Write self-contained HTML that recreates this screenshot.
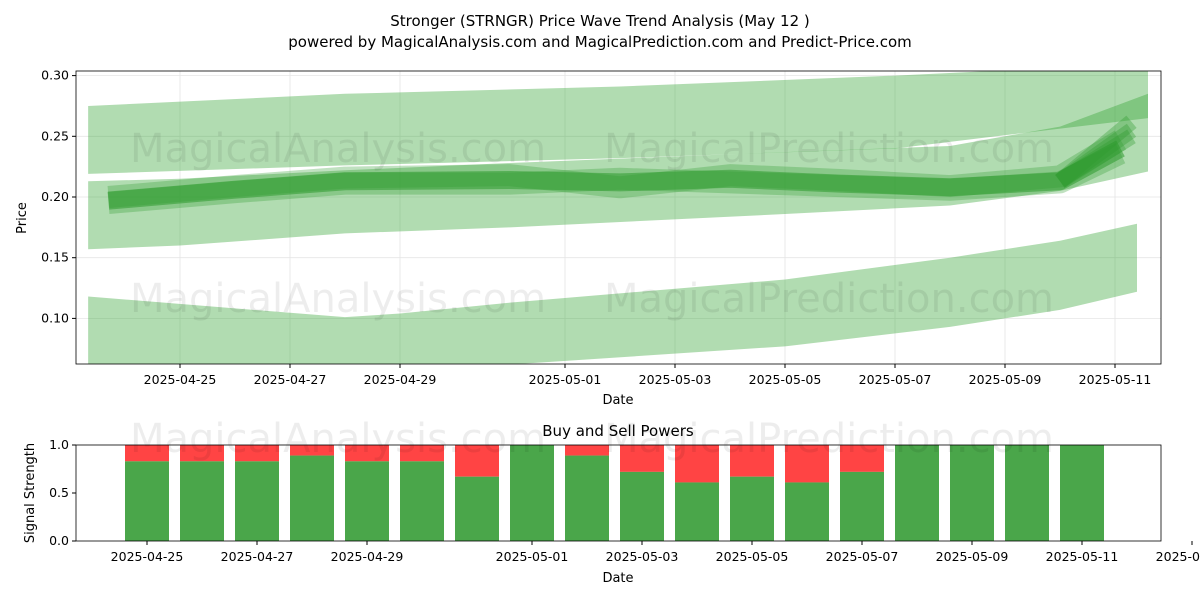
<!DOCTYPE html>
<html><head><meta charset="utf-8"><style>
body{margin:0;background:#fff;font-family:"Liberation Sans","DejaVu Sans",sans-serif}
text{font-family:"DejaVu Sans","Liberation Sans",sans-serif}
</style></head><body>
<svg id="c" width="1200" height="600" xmlns="http://www.w3.org/2000/svg">
<text x="600" y="26" text-anchor="middle" font-size="15">Stronger (STRNGR) Price Wave Trend Analysis (May 12 )</text>
<text x="600" y="47" text-anchor="middle" font-size="15">powered by MagicalAnalysis.com and MagicalPrediction.com and Predict-Price.com</text>
<g id="topPanel"></g>
<g id="botPanel"></g>
</svg>
<script>
const priceTicks=[0.10,0.15,0.20,0.25,0.30];
const dateTicksTop=["2025-04-25","2025-04-27","2025-04-29","2025-05-01","2025-05-03","2025-05-05","2025-05-07","2025-05-09","2025-05-11"];
const dateTicksBot=["2025-04-25","2025-04-27","2025-04-29","2025-05-01","2025-05-03","2025-05-05","2025-05-07","2025-05-09","2025-05-11","2025-05-13"];
// days since 2025-04-23
const bandADays=[0.33,5,10,15,19.6];
const bandAUpper=[0.275,0.285,0.291,0.300,0.310];
const bandALower=[0.219,0.226,0.232,0.240,0.265];
const bandBDays=[0.33,2,5,8,13,16,18,19.6];
const bandBUpper=[0.213,0.215,0.222,0.228,0.237,0.242,0.258,0.285];
const bandBLower=[0.157,0.160,0.170,0.175,0.186,0.193,0.205,0.221];
const bandCDays=[0.33,5,6,8,13,16,18,19.4];
const bandCUpper=[0.118,0.101,0.104,0.113,0.132,0.150,0.164,0.178];
const bandCLower=[0.062,0.052,0.055,0.062,0.077,0.093,0.107,0.122];
const trendDays=[0.7,3,5,8,10,12,14,16,18,19.1];
const trendMain=[0.197,0.206,0.213,0.214,0.212,0.215,0.211,0.208,0.213,0.240];
const trendAlt1=[0.200,0.209,0.216,0.218,0.208,0.218,0.214,0.209,0.217,0.247];
const trendAlt2=[0.195,0.204,0.211,0.211,0.215,0.212,0.209,0.206,0.212,0.236];
const trendEnd=[0.255,0.262,0.250];
const barDays=[2,3,4,5,6,7,8,9,10,11,12,13,14,15,16,17,18,19];
const buyPower=[0.83,0.83,0.83,0.89,0.83,0.83,0.67,1,0.89,0.72,0.61,0.67,0.61,0.72,1,1,1,1];
const NS="http://www.w3.org/2000/svg";
function mk(p,t,a){const e=document.createElementNS(NS,t);for(const k in a)e.setAttribute(k,a[k]);p.appendChild(e);return e;}
const topG=document.getElementById('topPanel'),botG=document.getElementById('botPanel');
const X0=76,X1=1161,T0=71,T1=364,B0=445,B1=541;
const xd=d=>70+55*d;
const yp=v=>197-(v-0.20)/0.05*60.7;
const ys=v=>B1-v*96;
function dayOf(s){const[y,m,d]=s.split('-').map(Number);return m===4?d-23:d+8;}
const defs=mk(topG,'defs',{});const cp=mk(defs,'clipPath',{id:'cl'});mk(cp,'rect',{x:X0,y:T0,width:X1-X0,height:T1-T0});
const g=mk(topG,'g',{'clip-path':'url(#cl)'});
dateTicksTop.forEach(s=>{const x=xd(dayOf(s));const l=mk(g,'line',{x1:x,x2:x,y1:T0,y2:T1,stroke:'#e5e5e5','stroke-width':0.8});});
priceTicks.forEach(v=>{const y=yp(v);const l=mk(g,'line',{x1:X0,x2:X1,y1:y,y2:y,stroke:'#e5e5e5','stroke-width':0.8});});
function band(days,up,lo,name){let pts=days.map((d,i)=>xd(d)+','+yp(up[i]));pts=pts.concat(days.map((d,i)=>xd(d)+','+yp(lo[i])).reverse());const p=mk(g,'polygon',{points:pts.join(' '),fill:'#2ca02c','fill-opacity':0.37});}
band(bandADays,bandAUpper,bandALower,'upper-band');
band(bandBDays,bandBUpper,bandBLower,'middle-band');
band(bandCDays,bandCUpper,bandCLower,'lower-band');
function line(days,vals,w,op,name){const p=mk(g,'polyline',{points:days.map((d,i)=>xd(d)+','+yp(vals[i])).join(' '),fill:'none',stroke:'#2e9a2e','stroke-opacity':op,'stroke-width':w,'stroke-linejoin':'round'});}
line(trendDays,trendAlt1,22,0.3,'trend-wave-1');
line(trendDays,trendAlt2,22,0.3,'trend-wave-2');
line(trendDays,trendMain,18,0.55,'trend-wave-main');
trendEnd.forEach((v,i)=>{const p=mk(g,'polyline',{points:xd(18)+','+yp(trendMain[8])+' '+xd(19.3)+','+yp(v),fill:'none',stroke:'#2e9a2e','stroke-opacity':0.35,'stroke-width':16});});
[[130,162],[130,312],[604,162],[604,312]].forEach((p,i)=>{const t=mk(topG,'text',{x:p[0],y:p[1],'font-size':40,fill:'#000','fill-opacity':0.07});t.textContent=p[0]<300?'MagicalAnalysis.com':'MagicalPrediction.com';});
mk(topG,'rect',{x:X0,y:T0,width:X1-X0,height:T1-T0,fill:'none',stroke:'#000','stroke-width':0.8});
priceTicks.forEach(v=>{const y=yp(v);mk(topG,'line',{x1:X0-4,x2:X0,y1:y,y2:y,stroke:'#000'});const t=mk(topG,'text',{x:X0-7,y:y+4,'font-size':12.5,'text-anchor':'end'});t.textContent=v.toFixed(2);});
dateTicksTop.forEach(s=>{const x=xd(dayOf(s));mk(topG,'line',{x1:x,x2:x,y1:T1,y2:T1+4,stroke:'#000'});const t=mk(topG,'text',{x:x,y:T1+20,'font-size':12.5,'text-anchor':'middle'});t.textContent=s;});
let tt=mk(topG,'text',{x:618,y:404,'font-size':13,'text-anchor':'middle'});tt.textContent='Date';
tt=mk(topG,'text',{x:26,y:218,'font-size':13,'text-anchor':'middle',transform:'rotate(-90 26 218)'});tt.textContent='Price';
const xb=d=>147+55*(d-2);
tt=mk(botG,'text',{x:618,y:436,'font-size':15,'text-anchor':'middle'});tt.textContent='Buy and Sell Powers';
barDays.forEach((d,i)=>{const x=xb(d)-22;const r=mk(botG,'rect',{x:x,y:ys(1),width:44,height:ys(buyPower[i])-ys(1),fill:'#ff4444'});const gr=mk(botG,'rect',{x:x,y:ys(buyPower[i]),width:44,height:B1-ys(buyPower[i]),fill:'#4aa64a'});});
[[130,452],[604,452]].forEach(p=>{const w=mk(botG,'text',{x:p[0],y:p[1],'font-size':40,fill:'#000','fill-opacity':0.07});w.textContent=p[0]<300?'MagicalAnalysis.com':'MagicalPrediction.com';});
mk(botG,'rect',{x:X0,y:B0,width:X1-X0,height:B1-B0,fill:'none',stroke:'#000','stroke-width':0.8});
[0,0.5,1].forEach(v=>{const y=ys(v);mk(botG,'line',{x1:X0-4,x2:X0,y1:y,y2:y,stroke:'#000'});const l=mk(botG,'text',{x:X0-7,y:y+4,'font-size':12.5,'text-anchor':'end'});l.textContent=v.toFixed(1);});
dateTicksBot.forEach(s=>{const x=xb(dayOf(s));mk(botG,'line',{x1:x,x2:x,y1:B1,y2:B1+4,stroke:'#000'});const l=mk(botG,'text',{x:x,y:B1+20,'font-size':12.5,'text-anchor':'middle'});l.textContent=s;});
tt=mk(botG,'text',{x:618,y:582,'font-size':13,'text-anchor':'middle'});tt.textContent='Date';
tt=mk(botG,'text',{x:34,y:493,'font-size':13,'text-anchor':'middle',transform:'rotate(-90 34 493)'});tt.textContent='Signal Strength';
</script>
</body></html>
